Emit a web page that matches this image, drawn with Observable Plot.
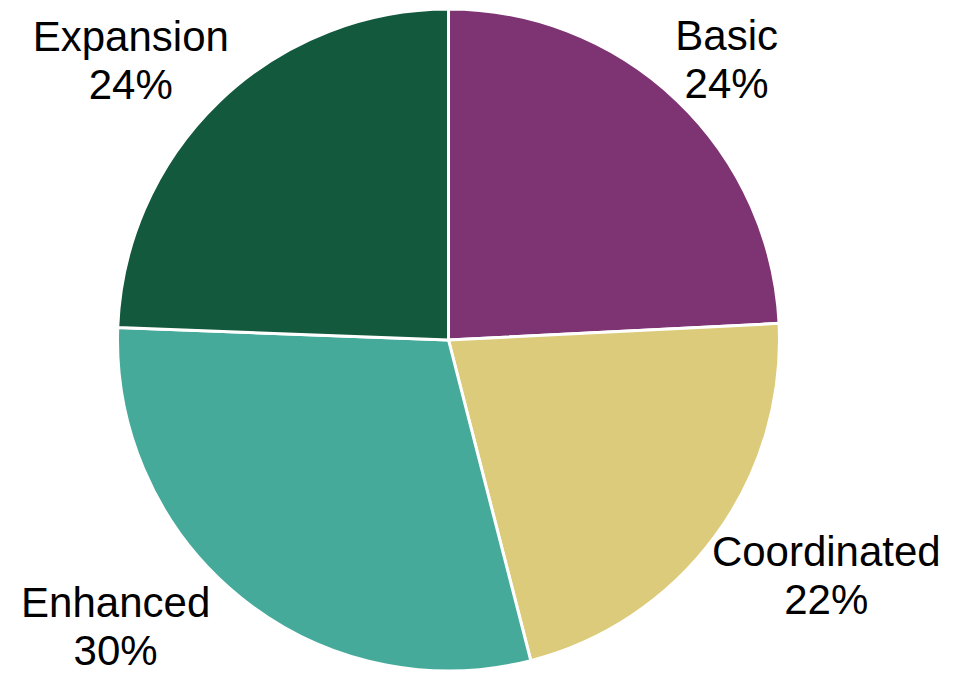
<!DOCTYPE html>
<html>
<head>
<meta charset="utf-8">
<script src="https://cdn.jsdelivr.net/npm/d3@7"></script>
<script src="https://cdn.jsdelivr.net/npm/@observablehq/plot@0.6"></script>
<style>
  html, body { margin: 0; padding: 0; background: #fff; }
  #chart svg { display: block; }
</style>
</head>
<body>
<div id="chart"></div>
<script>
// ---- data ----
const categories = ["Basic", "Coordinated", "Enhanced", "Expansion"];
const values = [24.2, 21.8, 29.6, 24.4];
const percentLabels = ["24%", "22%", "30%", "24%"];
const colors = ["#7E3472", "#DCCB7A", "#46AA9B", "#13593D"];

// ---- layout ----
const W = 974, H = 674;
const cx = 448.5, cy = 340, R = 331;   // pie centre & radius in pixels
const fontSize = 42, lineHeight = 1.15;
const fontFamily = '"Liberation Sans", Arial, Helvetica, sans-serif';

const data = categories.map((c, i) => ({category: c, value: values[i], label: percentLabels[i]}));
const arcs = d3.pie().sort(null).value(d => d.value)(data);

// measure label widths
const ctx = document.createElement("canvas").getContext("2d");
ctx.font = `${fontSize}px ${fontFamily}`;

// label placement: outside end, pushed out by the label's box, kept in frame
const pad = 10, m = 8;
const labelData = arcs.map(a => {
  const th = (a.startAngle + a.endAngle) / 2;
  const s = Math.sin(th), c = Math.cos(th);
  const lines = [a.data.category, a.data.label];
  const w = Math.max(...lines.map(t => ctx.measureText(t).width));
  const h = fontSize * (0.72 + lineHeight) + 4;
  let px = cx + s * (R + pad) + Math.sign(s) * Math.sqrt(Math.abs(s)) * w / 2;
  let py = cy - c * (R + pad) - Math.sign(c) * Math.sqrt(Math.abs(c)) * h / 2;
  let clamped = false;
  const py2 = Math.min(Math.max(py, h / 2 + m), H - h / 2 - m);
  if (py2 !== py) { clamped = true; py = py2; }
  px = Math.min(Math.max(px, w / 2 + m), W - w / 2 - m);
  if (clamped) {
    const cornerY = py + (c < 0 ? -h / 2 : h / 2);
    let cornerX = px + (s > 0 ? -w / 2 : w / 2);
    const dy = cornerY - cy;
    const need = (R + pad) * (R + pad) - dy * dy;
    if (need > 0 && Math.hypot(cornerX - cx, dy) < R + pad) {
      cornerX = cx + Math.sign(s) * Math.sqrt(need);
      px = cornerX + (s > 0 ? w / 2 : -w / 2);
    }
  }
  // to scale units (radius = 1, centre = 0,0)
  return {text: lines.join("\n"), x: (px - cx) / R, y: (cy - py) / R};
});

// pie slices drawn through the plot's scales
function pieSlices(index, scales) {
  const color = scales.color ?? d3.scaleOrdinal(categories, colors);
  const x0 = scales.x(0), y0 = scales.y(0);
  const r = scales.x(1) - scales.x(0);
  const arc = d3.arc().innerRadius(0).outerRadius(r);
  const g = d3.create("svg:g").attr("transform", `translate(${x0},${y0})`);
  g.selectAll("path")
    .data(arcs)
    .join("path")
    .attr("d", arc)
    .attr("fill", d => color(d.data.category))
    .attr("stroke", "#fff")
    .attr("stroke-width", 3)
    .attr("stroke-linejoin", "round");
  return g.node();
}

const chart = Plot.plot({
  width: W,
  height: H,
  margin: 0,
  style: {background: "#fff", fontFamily, overflow: "visible"},
  x: {domain: [-cx / R, (W - cx) / R], range: [0, W], axis: null},
  y: {domain: [-(H - cy) / R, cy / R], range: [H, 0], axis: null},
  color: {domain: categories, range: colors},
  marks: [
    Plot.dot(data, {x: 0, y: 0, fill: "category", r: 1, fillOpacity: 0}),
    pieSlices,
    Plot.text(labelData, {
      x: "x", y: "y", text: "text",
      fontSize, lineHeight, fill: "#000",
      textAnchor: "middle", lineAnchor: "middle",
      fontFamily
    })
  ]
});
document.getElementById("chart").append(chart);
</script>
</body>
</html>
